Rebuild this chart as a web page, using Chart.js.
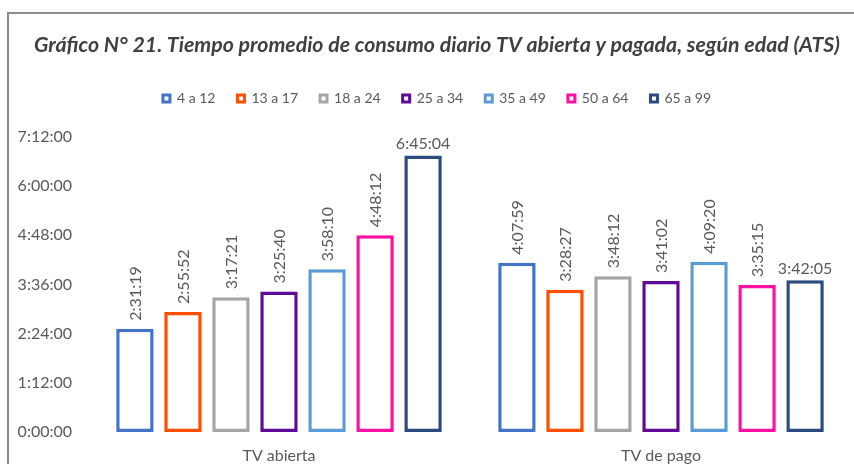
<!DOCTYPE html>
<html>
<head>
<meta charset="utf-8">
<script src="https://cdn.jsdelivr.net/npm/chart.js@4.4.1/dist/chart.umd.min.js"></script>
<style>
  html, body { margin: 0; padding: 0; background: #ffffff; }
  #wrap { position: relative; width: 854px; height: 464px; overflow: hidden; }
  #frame { position: absolute; left: 7px; top: 12px; width: 900px; height: 500px;
           border-left: 2px solid #8c8c8c; border-top: 2px solid #8c8c8c; }
  #c { position: absolute; left: 0; top: 0; }
</style>
</head>
<body>
<div id="wrap">
  <div id="frame"></div>
  <canvas id="c" width="854" height="464"></canvas>
</div>
<script>
// ---- Data (seconds) ----
const categories = ["TV abierta", "TV de pago"];
const seriesNames = ["4 a 12", "13 a 17", "18 a 24", "25 a 34", "35 a 49", "50 a 64", "65 a 99"];
const s4a12   = [9079, 14879];   // 2:31:19, 4:07:59
const s13a17  = [10552, 12507];  // 2:55:52, 3:28:27
const s18a24  = [11841, 13692];  // 3:17:21, 3:48:12
const s25a34  = [12340, 13262];  // 3:25:40, 3:41:02
const s35a49  = [14290, 14960];  // 3:58:10, 4:09:20
const s50a64  = [17292, 12915];  // 4:48:12, 3:35:15
const s65a99  = [24304, 13325];  // 6:45:04, 3:42:05
const seriesValues = [s4a12, s13a17, s18a24, s25a34, s35a49, s50a64, s65a99];
const seriesColors = ["#4472C4", "#FF4E00", "#A5A5A5", "#5E0A96", "#5B9BD5", "#FF0FA3", "#2B4A7E"];
const yTickStep = 4320;   // 1:12:00
const yMax = 25920;       // 7:12:00
const horizontalLabelSeries = [6];

function fmt(sec) {
  const h = Math.floor(sec / 3600);
  const m = Math.floor((sec % 3600) / 60);
  const s = Math.round(sec % 60);
  return h + ":" + String(m).padStart(2, "0") + ":" + String(s).padStart(2, "0");
}

const FONT = "Lato";
const TEXT = "#595959";

const datasets = seriesNames.map((name, i) => ({
  label: name,
  data: seriesValues[i],
  backgroundColor: "#ffffff",
  borderColor: seriesColors[i],
  borderWidth: 3.5,
  borderSkipped: false,
  categoryPercentage: 0.88,
  barPercentage: 0.78
}));

const labelPlugin = {
  id: "valueLabels",
  afterLayout(chart) {
    // let the y tick labels extend left of the layout padding without clipping
    chart.scales.y.left = 0;
  },
  afterDatasetsDraw(chart) {
    const ctx = chart.ctx;
    ctx.save();
    ctx.font = "16px " + FONT;
    ctx.fillStyle = TEXT;
    chart.data.datasets.forEach((ds, di) => {
      const meta = chart.getDatasetMeta(di);
      meta.data.forEach((bar, idx) => {
        const txt = fmt(ds.data[idx]);
        if (horizontalLabelSeries.includes(di)) {
          ctx.save();
          ctx.textAlign = "center";
          ctx.textBaseline = "bottom";
          ctx.fillText(txt, bar.x, bar.y - 4);
          ctx.restore();
        } else {
          ctx.save();
          ctx.translate(bar.x, bar.y - 8);
          ctx.rotate(-Math.PI / 2);
          ctx.textAlign = "left";
          ctx.textBaseline = "middle";
          ctx.fillText(txt, 0, 1);
          ctx.restore();
        }
      });
    });
    ctx.restore();
  }
};

new Chart(document.getElementById("c"), {
  type: "bar",
  data: { labels: categories, datasets },
  plugins: [labelPlugin],
  options: {
    responsive: false,
    animation: false,
    devicePixelRatio: 1,
    layout: { padding: { left: 22, right: 2, top: 0, bottom: 0 } },
    plugins: {
      tooltip: { enabled: false },
      title: {
        display: true,
        text: "Gráfico N° 21. Tiempo promedio de consumo diario TV abierta y pagada, según edad (ATS)",
        color: "#404040",
        font: { family: FONT, size: 21.3, weight: "bold", style: "italic", lineHeight: 1.2 },
        padding: { top: 32, bottom: 12 }
      },
      subtitle: {
        display: true,
        text: " ",
        weight: 500,
        font: { size: 1, lineHeight: 1.2 },
        padding: { top: 0, bottom: 20.2 }
      },
      legend: {
        display: true,
        position: "top",
        labels: {
          color: TEXT,
          font: { family: FONT, size: 14 },
          boxWidth: 7,
          boxHeight: 7,
          padding: 22,
          generateLabels(chart) {
            const items = Chart.defaults.plugins.legend.labels.generateLabels(chart);
            items.forEach(it => { it.lineWidth = 3; it.fillStyle = "#ffffff"; });
            return items;
          }
        }
      }
    },
    scales: {
      x: {
        grid: { display: false, drawTicks: false },
        border: { display: false },
        ticks: { color: TEXT, font: { family: FONT, size: 16 }, padding: 14 },
        afterFit(scale) { scale.height = 32; }
      },
      y: {
        min: 0,
        max: yMax,
        grid: { display: false, drawTicks: false },
        border: { display: false },
        ticks: {
          stepSize: yTickStep,
          color: TEXT,
          font: { family: FONT, size: 16 },
          padding: 16,
          callback: (v) => fmt(v)
        },
        afterFit(scale) { scale.width = 66; scale.paddingTop = 137; }
      }
    }
  }
});
</script>
</body>
</html>
